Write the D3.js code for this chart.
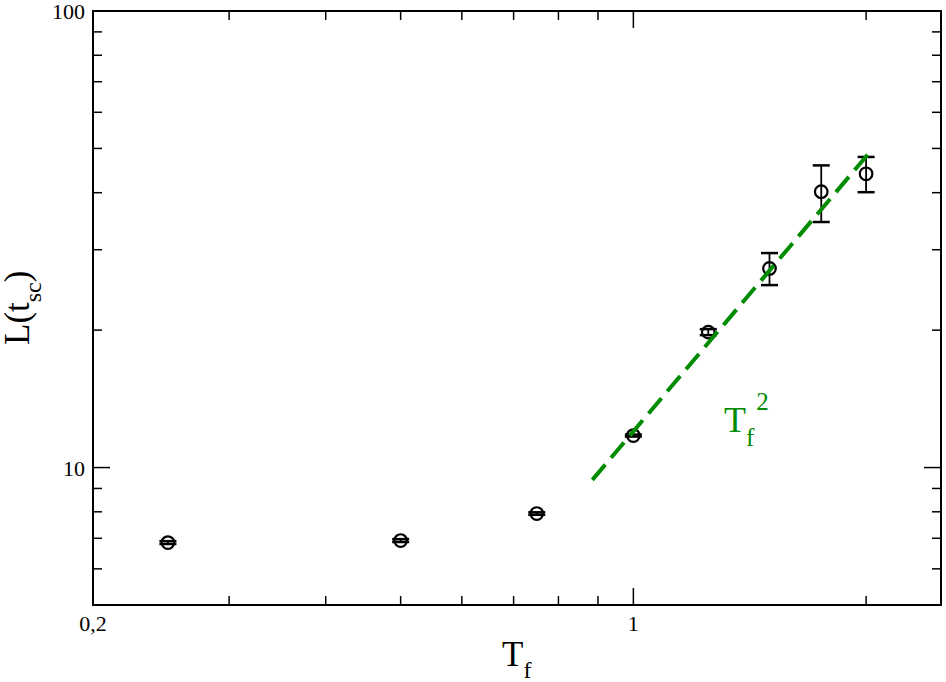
<!DOCTYPE html>
<html>
<head>
<meta charset="utf-8">
<script src="https://cdn.jsdelivr.net/npm/d3@7"></script>
<style>
  body { margin: 0; background: #fff; }
</style>
</head>
<body>
<svg width="946" height="682"></svg>
<script>
// data
const tf = [0.25, 0.5, 0.75, 1, 1.25, 1.5, 1.75, 2];
const lsc = [6.85, 6.92, 7.93, 11.75, 19.8, 27.3, 40.2, 44.0];
const lscErr = [0.05, 0.05, 0.05, 0.06, 0.3, 2.2, 5.7, 3.9];

// power law guide T_f^2
const fitAmp = 12.0, fitExp = 2;
const fitRange = [0.885, 2.02];

const xMajor = [0.2, 1];
const xMinor = [0.3, 0.4, 0.5, 0.6, 0.7, 0.8, 0.9, 2];
const yMajor = [10, 100];
const yMinor = [6, 7, 8, 9, 20, 30, 40, 50, 60, 70, 80, 90];

const width = 946, height = 682;
const margin = {left: 93, top: 11, right: 5, bottom: 77};
const serif = '"Liberation Serif"';

const svg = d3.select("svg");

const x = d3.scaleLog().domain([0.2, 2.5]).range([margin.left, width - margin.right]);
const y = d3.scaleLog().domain([5, 100]).range([height - margin.bottom, margin.top]);

const x0 = x.range()[0], x1 = x.range()[1];
const y0 = y.range()[0], y1 = y.range()[1];

const majorLen = 17, minorLen = 9;

// ticks on all four sides, pointing inward
const ticks = svg.append("g").attr("stroke", "#000").attr("stroke-width", 1.5);
xMajor.concat(xMinor).forEach(v => {
  const len = xMajor.includes(v) ? majorLen : minorLen;
  ticks.append("line").attr("x1", x(v)).attr("x2", x(v)).attr("y1", y0).attr("y2", y0 - len);
  ticks.append("line").attr("x1", x(v)).attr("x2", x(v)).attr("y1", y1).attr("y2", y1 + len);
});
yMajor.concat(yMinor).forEach(v => {
  const len = yMajor.includes(v) ? majorLen : minorLen;
  ticks.append("line").attr("y1", y(v)).attr("y2", y(v)).attr("x1", x0).attr("x2", x0 + len);
  ticks.append("line").attr("y1", y(v)).attr("y2", y(v)).attr("x1", x1).attr("x2", x1 - len);
});

// frame
svg.append("rect")
  .attr("x", x0).attr("y", y1)
  .attr("width", x1 - x0).attr("height", y0 - y1)
  .attr("fill", "none").attr("stroke", "#000").attr("stroke-width", 2);

// tick labels
const fmtX = d => d === 1 ? "1" : String(d).replace(".", ",");
svg.append("g").selectAll("text").data(xMajor).join("text")
  .attr("x", d => x(d)).attr("y", y0 + 26)
  .attr("text-anchor", "middle").attr("font-size", 22)
  .style("font-family", serif)
  .text(fmtX);
svg.append("g").selectAll("text").data(yMajor).join("text")
  .attr("x", x0 - 8).attr("y", d => y(d) + 8)
  .attr("text-anchor", "end").attr("font-size", 22)
  .style("font-family", serif)
  .text(d => d);

// axis titles
const xt = svg.append("text").attr("x", 502).attr("y", 666)
  .attr("font-size", 35).style("font-family", serif);
xt.append("tspan").text("T");
xt.append("tspan").attr("font-size", 24).attr("dy", 12).text("f");

const yt = svg.append("text")
  .attr("transform", "translate(29,345) rotate(-90)")
  .attr("font-size", 35).style("font-family", serif);
yt.append("tspan").text("L(t");
yt.append("tspan").attr("font-size", 24).attr("dy", 12).text("sc");
yt.append("tspan").attr("dy", -12).text(")");

// error bars
const capW = 8.5;
const eb = svg.append("g").attr("stroke", "#000");
tf.forEach((t, i) => {
  const hi = y(lsc[i] + lscErr[i]), lo = y(lsc[i] - lscErr[i]);
  eb.append("line").attr("x1", x(t)).attr("x2", x(t)).attr("y1", hi).attr("y2", lo)
    .attr("stroke-width", 1.8);
  [hi, lo].forEach(yy => eb.append("line")
    .attr("x1", x(t) - capW).attr("x2", x(t) + capW)
    .attr("y1", yy).attr("y2", yy).attr("stroke-width", 2.5));
});

// points
svg.append("g").selectAll("circle").data(tf).join("circle")
  .attr("cx", d => x(d)).attr("cy", (d, i) => y(lsc[i]))
  .attr("r", 6.3)
  .attr("fill", "none").attr("stroke", "#000").attr("stroke-width", 2.2);

// guide line
const fitPts = fitRange.map(t => [t, fitAmp * Math.pow(t, fitExp)]);
svg.append("path")
  .attr("d", d3.line().x(d => x(d[0])).y(d => y(d[1]))(fitPts))
  .attr("fill", "none").attr("stroke", "#008b00")
  .attr("stroke-width", 4).attr("stroke-dasharray", "20,9");

const gl = svg.append("text").attr("x", 724).attr("y", 432)
  .attr("font-size", 36).attr("fill", "#008b00").style("font-family", serif);
gl.append("tspan").text("T");
gl.append("tspan").attr("font-size", 25).attr("dy", 14).text("f");
gl.append("tspan").attr("font-size", 25).attr("dy", -36).attr("dx", 2).text("2");
</script>
</body>
</html>
